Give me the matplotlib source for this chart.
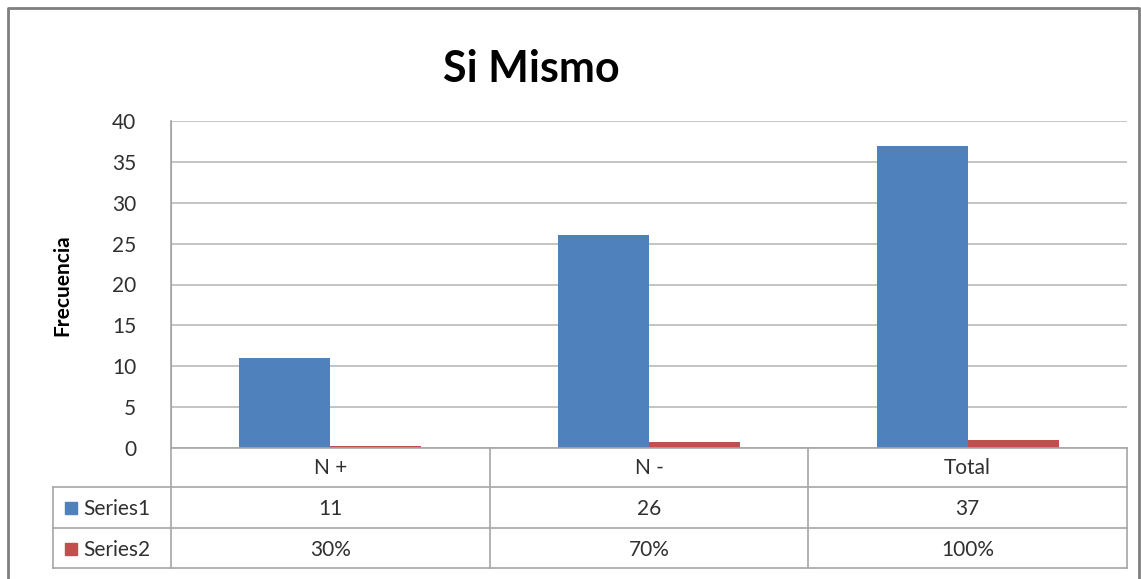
import matplotlib
matplotlib.use("Agg")
from matplotlib import pyplot as plt
from matplotlib.lines import Line2D
from matplotlib.patches import Rectangle
import matplotlib.transforms as mtransforms

plt.rcParams['font.family'] = ['Lato', 'DejaVu Sans']

categories = ["N +", "N -", "Total"]
series1 = [11, 26, 37]
series2 = [0.30, 0.70, 1.00]
series_names = ["Series1", "Series2"]
series1_labels = ["11", "26", "37"]
series2_labels = ["30%", "70%", "100%"]
title = "Si Mismo"
ylabel = "Frecuencia"

BLUE = "#4F81BD"
RED = "#C0504D"
GRID = "#BFBFBF"
LINE = "#A6A6A6"
TXT = "#303030"

W, H = 1141, 579
fig = plt.figure(figsize=(W / 100, H / 100), dpi=100)


def fx(px):
    return px / W


def fy(py):
    return 1 - py / H


# plot area
ax = fig.add_axes([fx(171), fy(448), fx(1127) - fx(171), fy(121) - fy(448)])
x = list(range(len(categories)))
bw = 0.286
ax.bar([i - bw / 2 for i in x], series1, bw, color=BLUE, zorder=3)
ax.bar([i + bw / 2 for i in x], series2, bw, color=RED, zorder=3)
ax.set_xlim(-0.5, len(categories) - 0.5)
ax.set_ylim(0, 40)
ax.set_yticks(range(0, 41, 5))
ax.set_xticks([])
ax.yaxis.grid(True, color=GRID, lw=1.3, zorder=0)
ax.tick_params(axis='y', length=0, pad=25, labelsize=15, labelcolor=TXT)
for s in ["top", "right", "bottom"]:
    ax.spines[s].set_visible(False)
ax.spines["left"].set_color(LINE)

fig.text(fx(531), fy(69), title, ha="center", va="center",
         fontsize=31, fontweight="bold", color="black")
fig.text(fx(62), fy(285), ylabel, ha="center", va="center",
         rotation=90, fontsize=15, fontweight="bold", color="black")

# data table below the plot
tr = mtransforms.blended_transform_factory(ax.transData, fig.transFigure)
rows = [448, 487, 528, 568]
xmin, xmax = -0.5, len(categories) - 0.5
for i, r in enumerate(rows):
    if i == 0:
        fig.add_artist(Line2D([fx(171), fx(1127)], [fy(r), fy(r)], color=LINE, lw=1.2))
    else:
        fig.add_artist(Line2D([fx(53), fx(1127)], [fy(r), fy(r)], color=LINE, lw=1.2))
for b in [xmin + k for k in range(len(categories) + 1)]:
    top = 121 if b == xmin else 448
    ax.add_line(Line2D([b, b], [fy(top), fy(568)], transform=tr, color=LINE,
                       lw=1.2, clip_on=False))
fig.add_artist(Line2D([fx(53), fx(53)], [fy(487), fy(568)], color=LINE, lw=1.2))

for i, c in enumerate(categories):
    ax.text(i, fy(468), c, transform=tr, ha="center", va="center", fontsize=15, color=TXT)
    ax.text(i, fy(509), series1_labels[i], transform=tr, ha="center", va="center",
            fontsize=15, color=TXT)
    ax.text(i, fy(550), series2_labels[i], transform=tr, ha="center", va="center",
            fontsize=15, color=TXT)

for name, col, yc in [(series_names[0], BLUE, 508), (series_names[1], RED, 549)]:
    fig.add_artist(Rectangle((fx(65), fy(yc + 6)), fx(12), fy(yc - 6) - fy(yc + 6),
                             transform=fig.transFigure, color=col))
    fig.text(fx(83), fy(yc + 1), name, ha="left", va="center", fontsize=15, color=TXT)

# chart frame
fig.add_artist(Line2D([fx(8), fx(8), fx(1139), fx(1139)],
                      [fy(579), fy(8), fy(8), fy(579)], color="#7F7F7F", lw=2))

fig.savefig("out.png", dpi=100, facecolor="white")
